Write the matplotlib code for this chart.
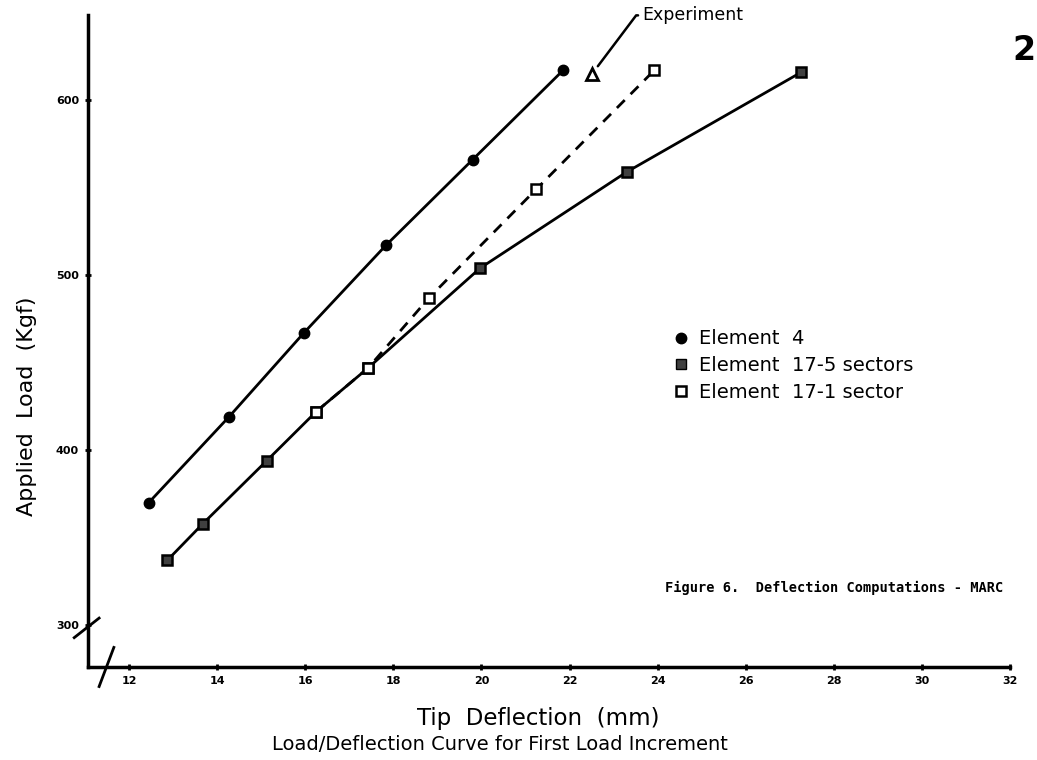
import matplotlib
matplotlib.use("Agg")
import matplotlib.pyplot as plt
from matplotlib.lines import Line2D

# Element 4 (filled circles, solid)
el4_x = [12.45, 14.27, 15.97, 17.83, 19.8, 21.85]
el4_y = [370, 419, 467, 517, 566, 617]

# Element 17 - 5 sectors (filled squares, solid)
el5_x = [12.87, 13.68, 15.13, 16.25, 17.43, 19.97, 23.3, 27.26]
el5_y = [337, 358, 394, 422, 447, 504, 559, 616]

# Element 17 - 1 sector (open squares, dashed)
el1_x = [16.25, 17.43, 18.81, 21.24, 23.92]
el1_y = [422, 447, 487, 549, 617]

# Experiment
exp_x = [22.51]
exp_y = [615]

x_ticks = [12, 14, 16, 18, 20, 22, 24, 26, 28, 30, 32]
y_ticks = [300, 400, 500, 600]

plt.rcParams['font.family'] = ['DejaVu Sans']

fig = plt.figure(figsize=(10.37, 7.6), dpi=100)
ax = fig.add_axes([0.0849, 0.1224, 0.974 - 0.0849, 0.980 - 0.1224])

ax.plot(el4_x, el4_y, '-', color='black', lw=2, marker='o', markersize=7.5,
        markerfacecolor='black')
ax.plot(el5_x, el5_y, '-', color='black', lw=2, marker='s', markersize=7,
        markerfacecolor='0.25', markeredgewidth=1.8)
ax.plot(el1_x, el1_y, '--', color='black', lw=2, dashes=(4, 3), marker='s',
        markersize=7, markerfacecolor='white', markeredgewidth=1.8)
ax.plot(exp_x, exp_y, linestyle='none', marker='^', markersize=8,
        markerfacecolor='white', markeredgecolor='black', markeredgewidth=2)

ax.annotate('Experiment', xy=(exp_x[0], exp_y[0]), xytext=(23.65, 648.5),
            fontsize=12.5, ha='left', va='center', annotation_clip=False,
            arrowprops=dict(arrowstyle='-', lw=1.8, color='black',
                            shrinkA=1, shrinkB=7,
                            connectionstyle='angle,angleA=0,angleB=53,rad=0'))

ax.set_xlim(11.07, 32)
ax.set_ylim(276, 648.6)
ax.spines['top'].set_visible(False)
ax.spines['right'].set_visible(False)
ax.spines['left'].set_linewidth(2.5)
ax.spines['bottom'].set_linewidth(2.5)
ax.set_xticks(x_ticks)
ax.set_xticklabels([str(v) for v in x_ticks], fontsize=8, fontweight='bold')
ax.set_yticks(y_ticks)
ax.set_yticklabels([str(v) for v in y_ticks], fontsize=8, fontweight='bold')
ax.tick_params(direction='inout', length=5, width=2, pad=4)

fig.text(538 / 1037, 1 - 718 / 760, 'Tip  Deflection  (mm)', fontsize=16.5,
         ha='center', va='center')
fig.text(27 / 1037, 1 - 406 / 760, 'Applied  Load  (Kgf)', fontsize=16,
         rotation=90, ha='center', va='center')
fig.text(500 / 1037, 1 - 745 / 760, 'Load/Deflection Curve for First Load Increment',
         fontsize=14, ha='center', va='center')

# axis break marks
brk = dict(color='black', lw=2, transform=ax.transAxes, clip_on=False)
ax.plot([-0.015, 0.012], [0.045, 0.075], **brk)
ax.plot([0.012, 0.028], [-0.03, 0.03], **brk)

handles = [
    Line2D([], [], ls='none', marker='o', color='black', markersize=7.5),
    Line2D([], [], ls='none', marker='s', color='black', markerfacecolor='0.25',
           markersize=7),
    Line2D([], [], ls='none', marker='s', color='black', markerfacecolor='white',
           markeredgewidth=1.8, markersize=7),
]
ax.legend(handles, ['Element  4', 'Element  17-5 sectors', 'Element  17-1 sector'],
          loc='upper left', bbox_to_anchor=(0.633, 0.518), frameon=False,
          fontsize=14, handletextpad=0.4, labelspacing=0.4, handlelength=1.0,
          borderaxespad=0, borderpad=0)

fig.text(0.641, 1 - 588 / 760, 'Figure 6.  Deflection Computations - MARC',
         fontsize=9.8, fontweight='bold', family='DejaVu Sans Mono',
         ha='left', va='center')
fig.text(0.999, 1 - 50 / 760, '2', fontsize=24, fontweight='bold',
         ha='right', va='center')

fig.savefig('out.png', dpi=100)
